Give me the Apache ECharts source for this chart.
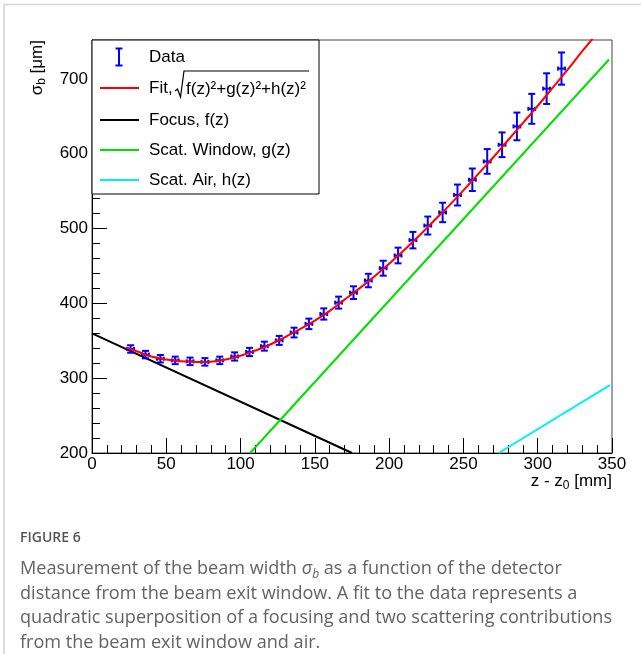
<!DOCTYPE html>
<html lang="en">
<head>
<meta charset="UTF-8">
<title>Beam width vs distance</title>
<style>
  html, body { margin: 0; padding: 0; background: #fff; }
  #main { width: 641px; height: 654px; }
</style>
</head>
<body>
<div id="main"></div>
<script src="https://cdn.jsdelivr.net/npm/echarts@6/dist/echarts.min.js"></script>
<script type="text/javascript">
var zData     = [26, 36, 46, 56, 66, 76, 86, 96, 106, 116, 126, 136, 146, 156, 166,
                 176, 186, 196, 206, 216, 226, 236, 246, 256, 266, 276, 286, 296, 306, 316];
var sigmaData = [339, 331.5, 326, 323.8, 322.5, 321.8, 323.8, 329, 335, 342.8, 350.5, 361, 372.6, 385.8, 401,
                 414.3, 430.5, 447, 464, 484.5, 504, 521.5, 544.8, 565.2, 589.7, 612, 636.5, 660, 687, 713.8];
var sigmaErr  = [5, 5, 5, 5, 5, 5, 5, 5.5, 5.5, 6, 6, 6.5, 7, 7.5, 8,
                 8.5, 9, 10, 10.5, 11, 12, 13, 14, 15, 16.5, 16.5, 18.5, 20, 20.5, 21.5];
var zErr      = [2.3, 2.3, 2.3, 2.3, 2.3, 2.3, 2.3, 2.3, 2.3, 2.3, 2.3, 2.3, 2.3, 2.3, 2.3,
                 2.3, 2.3, 2.3, 2.3, 2.3, 2.3, 2.3, 2.3, 2.3, 2.3, 2.3, 2.3, 2.3, 2.3, 2.3];

// fit curve
var fitZ     = [23, 30, 40, 50, 60, 70, 80, 90, 100, 110, 120, 130, 140, 150, 160, 170, 180,
                190, 200, 210, 220, 230, 240, 250, 260, 270, 280, 290, 300, 310, 320, 330, 340];
var fitSigma = [341, 336, 329, 325, 322.5, 321.5, 322, 325, 330, 337, 345, 355, 365.5, 377, 390, 405, 420,
                436, 453, 471, 490, 510, 530, 551, 573, 595, 618, 641, 664, 688, 712, 737, 761];

// straight components (end points)
var focusZ   = [0, 175];
var focusS   = [360, 200];
var windowZ  = [106.4, 348];
var windowS  = [200, 726];
var airZ     = [273.7, 348.6];
var airS     = [200, 290.7];

var xTicks = { min: 0, max: 350, step: 50 };
var yTicks = { min: 200, max: 752, step: 100 };

function pairs(a, b) {
    var out = [];
    for (var i = 0; i < a.length; i++) out.push([a[i], b[i]]);
    return out;
}

var pointData = [];
for (var i = 0; i < zData.length; i++) {
    pointData.push([zData[i], sigmaData[i], zErr[i], sigmaErr[i]]);
}

var FONT = 'Liberation Sans';
var BLUE = '#0000ff';

function renderErr(params, api) {
    var z = api.value(0), s = api.value(1), ez = api.value(2), es = api.value(3);
    var c = api.coord([z, s]);
    var top = api.coord([z, s + es]);
    var bot = api.coord([z, s - es]);
    var lft = api.coord([z - ez, s]);
    var rgt = api.coord([z + ez, s]);
    var st = { stroke: BLUE, lineWidth: 2 };
    var cap = 3.5, capx = 2;
    function ln(x1, y1, x2, y2) {
        return { type: 'line', shape: { x1: x1, y1: y1, x2: x2, y2: y2 }, style: st };
    }
    return {
        type: 'group',
        children: [
            ln(c[0], top[1], c[0], bot[1]),
            ln(c[0] - cap, top[1], c[0] + cap, top[1]),
            ln(c[0] - cap, bot[1], c[0] + cap, bot[1]),
            ln(lft[0], c[1], rgt[0], c[1]),
            ln(lft[0], c[1] - capx, lft[0], c[1] + capx),
            ln(rgt[0], c[1] - capx, rgt[0], c[1] + capx)
        ]
    };
}

// legend layout (pixels)
var LX = 92, LY = 40, LW = 227, LH = 154;
var rows = [57, 88, 120, 150, 180];
var legendItems = [
    { type: 'rect', z: 100, shape: { x: LX, y: LY, width: LW, height: LH },
      style: { fill: '#fff', stroke: '#000', lineWidth: 1 } },
    // data symbol
    { type: 'line', z: 101, shape: { x1: 119, y1: rows[0] - 8.5, x2: 119, y2: rows[0] + 8.5 }, style: { stroke: BLUE, lineWidth: 2 } },
    { type: 'line', z: 101, shape: { x1: 115.5, y1: rows[0] - 8.5, x2: 122.5, y2: rows[0] - 8.5 }, style: { stroke: BLUE, lineWidth: 2 } },
    { type: 'line', z: 101, shape: { x1: 115.5, y1: rows[0] + 8.5, x2: 122.5, y2: rows[0] + 8.5 }, style: { stroke: BLUE, lineWidth: 2 } },
    { type: 'line', z: 101, shape: { x1: 100, y1: rows[1], x2: 139, y2: rows[1] }, style: { stroke: '#ff0000', lineWidth: 2 } },
    { type: 'line', z: 101, shape: { x1: 100, y1: rows[2], x2: 139, y2: rows[2] }, style: { stroke: '#000000', lineWidth: 2 } },
    { type: 'line', z: 101, shape: { x1: 100, y1: rows[3], x2: 139, y2: rows[3] }, style: { stroke: '#00e000', lineWidth: 2 } },
    { type: 'line', z: 101, shape: { x1: 100, y1: rows[4], x2: 139, y2: rows[4] }, style: { stroke: '#00f0f0', lineWidth: 2 } },
    { type: 'text', z: 101, x: 149, y: rows[0], style: { text: 'Data', font: '17px "' + FONT + '"', fill: '#000', verticalAlign: 'middle' } },
    { type: 'text', z: 101, x: 149, y: rows[1], style: { text: 'Fit,', font: '17px "' + FONT + '"', fill: '#000', verticalAlign: 'middle' } },
    { type: 'polyline', z: 101, shape: { points: [[175, 91], [177.5, 89], [180.5, 97], [184, 71], [309, 71]] },
      style: { stroke: '#000', lineWidth: 1.2, fill: null } },
    { type: 'text', z: 101, x: 186, y: rows[1] + 1, style: { text: 'f(z)\u00b2+g(z)\u00b2+h(z)\u00b2', font: '17px "' + FONT + '"', fill: '#000', verticalAlign: 'middle' } },
    { type: 'text', z: 101, x: 149, y: rows[2], style: { text: 'Focus, f(z)', font: '17px "' + FONT + '"', fill: '#000', verticalAlign: 'middle' } },
    { type: 'text', z: 101, x: 149, y: rows[3], style: { text: 'Scat. Window, g(z)', font: '17px "' + FONT + '"', fill: '#000', verticalAlign: 'middle' } },
    { type: 'text', z: 101, x: 149, y: rows[4], style: { text: 'Scat. Air, h(z)', font: '17px "' + FONT + '"', fill: '#000', verticalAlign: 'middle' } }
];

var CAP_SIZE = 18.1;
var CAP_COLOR = '#636363';
var captionLines = [
    'distance from the beam exit window. A fit to the data represents a',
    'quadratic superposition of a focusing and two scattering contributions',
    'from the beam exit window and air.'
];

var otherGraphics = [
    // card edge
    { type: 'polyline', z: 1, shape: { points: [[4, 654], [4, 4.5], [641, 4.5]] },
      style: { stroke: '#d4d4d4', lineWidth: 1.5, fill: null } },
    // y axis title, rotated
    { type: 'text', z: 50, x: 37, y: 40, rotation: Math.PI / 2,
      style: { text: '{n|\u03c3}{s|b}{n| [\u03bcm]}', align: 'right', verticalAlign: 'middle',
               rich: { n: { fontFamily: FONT, fontSize: 17, lineHeight: 22, verticalAlign: 'middle' },
                       s: { fontFamily: FONT, fontSize: 12, lineHeight: 22, verticalAlign: 'bottom' } } } },
    // x axis title
    { type: 'text', z: 50, x: 612, y: 481,
      style: { text: '{n|z - z}{s|0}{n| [mm]}', align: 'right', verticalAlign: 'middle',
               rich: { n: { fontFamily: FONT, fontSize: 17, lineHeight: 22, verticalAlign: 'middle' },
                       s: { fontFamily: FONT, fontSize: 12, lineHeight: 22, verticalAlign: 'bottom' } } } },
    // caption
    { type: 'text', z: 50, x: 20, y: 538,
      style: { text: 'FIGURE 6', fontFamily: 'Open Sans', fontSize: 14, fontWeight: 600, fill: '#555', verticalAlign: 'middle' } },
    { type: 'text', z: 50, x: 20, y: 569,
      style: { text: '{t|Measurement of the beam width }{i|\u03c3}{is|b}{t| as a function of the detector}',
               verticalAlign: 'middle',
               rich: { t: { fontFamily: 'Open Sans', fontSize: CAP_SIZE, fill: CAP_COLOR, lineHeight: 24 },
                       i: { fontFamily: 'Open Sans', fontStyle: 'italic', fontSize: CAP_SIZE, fill: CAP_COLOR, lineHeight: 24 },
                       is: { fontFamily: 'Open Sans', fontStyle: 'italic', fontSize: 12, fill: CAP_COLOR, lineHeight: 24, verticalAlign: 'bottom' } } } }
];
for (var k = 0; k < captionLines.length; k++) {
    otherGraphics.push({ type: 'text', z: 50, x: 20, y: 593.5 + 24.5 * k,
        style: { text: captionLines[k], fontFamily: 'Open Sans', fontSize: CAP_SIZE, fill: CAP_COLOR, verticalAlign: 'middle' } });
}

var myChart = echarts.init(document.getElementById('main'), null, { renderer: 'canvas' });

myChart.setOption({
    animation: false,
    backgroundColor: '#fff',
    textStyle: { fontFamily: FONT },
    grid: {
        left: 92, top: 40, width: 520, height: 413,
        show: true, borderColor: '#444', borderWidth: 1, backgroundColor: 'transparent'
    },
    xAxis: {
        type: 'value',
        min: xTicks.min, max: xTicks.max, interval: xTicks.step,
        axisLine: { onZero: false, lineStyle: { color: '#000', width: 1 } },
        axisTick: { inside: true, length: 15, lineStyle: { color: '#000', width: 1 } },
        minorTick: { show: true, splitNumber: 5, length: 8, lineStyle: { color: '#000', width: 1 } },
        splitLine: { show: false },
        axisLabel: { fontFamily: FONT, fontSize: 17, color: '#000', margin: 3 }
    },
    yAxis: {
        type: 'value',
        min: yTicks.min, max: yTicks.max, interval: yTicks.step,
        axisLine: { onZero: false, lineStyle: { color: '#000', width: 1 } },
        axisTick: { inside: true, length: 15, lineStyle: { color: '#000', width: 1 } },
        minorTick: { show: true, splitNumber: 5, length: 8, lineStyle: { color: '#000', width: 1 } },
        splitLine: { show: false },
        axisLabel: { fontFamily: FONT, fontSize: 17, color: '#000', margin: 4, showMaxLabel: false }
    },
    series: [
        {
            name: 'Data',
            type: 'custom',
            renderItem: renderErr,
            data: pointData,
            encode: { x: 0, y: 1 },
            z: 3
        },
        {
            name: 'Focus, f(z)',
            type: 'line',
            data: pairs(focusZ, focusS),
            showSymbol: false,
            lineStyle: { color: '#000000', width: 2 },
            z: 2
        },
        {
            name: 'Scat. Window, g(z)',
            type: 'line',
            data: pairs(windowZ, windowS),
            showSymbol: false,
            lineStyle: { color: '#00e000', width: 2 },
            z: 2
        },
        {
            name: 'Scat. Air, h(z)',
            type: 'line',
            data: pairs(airZ, airS),
            showSymbol: false,
            lineStyle: { color: '#00f0f0', width: 2 },
            z: 2
        },
        {
            name: 'Fit',
            type: 'line',
            data: pairs(fitZ, fitSigma),
            smooth: 0.4,
            showSymbol: false,
            clip: true,
            lineStyle: { color: '#ff0000', width: 2 },
            z: 4
        }
    ],
    graphic: { elements: legendItems.concat(otherGraphics) }
});
</script>
</body>
</html>
